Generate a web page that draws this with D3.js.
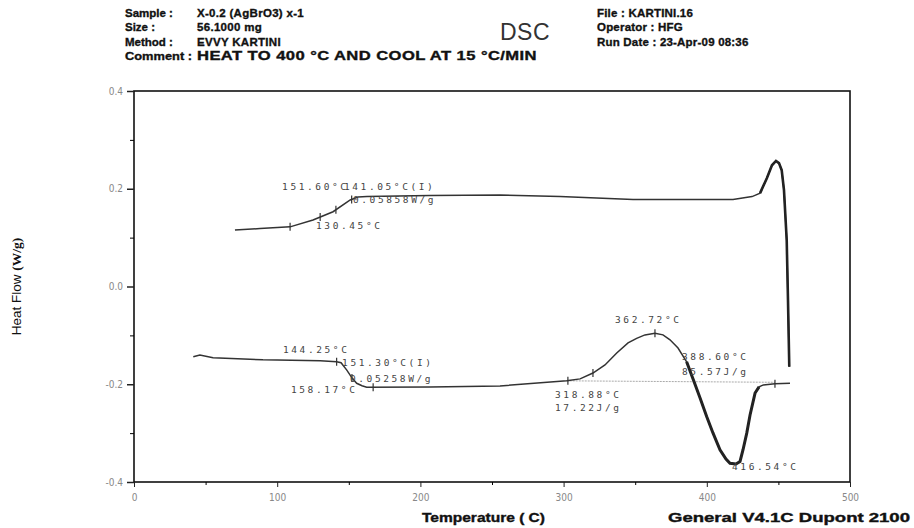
<!DOCTYPE html>
<html>
<head>
<meta charset="utf-8">
<script src="https://cdn.jsdelivr.net/npm/d3@7"></script>
<style>
  body { margin: 0; background: #fff; }
  svg { display: block; }
  .hdr { font-family: "Liberation Sans", Arial, sans-serif; font-weight: bold; font-size: 11.5px; fill: #111; stroke: #111; stroke-width: 0.35px; }
  .tick-lbl { font-family: "Liberation Sans Narrow", "DejaVu Sans Condensed", sans-serif; font-size: 10px; fill: #888; }
  .note { font-family: "DejaVu Sans Mono", monospace; font-size: 9.5px; fill: #444; letter-spacing: 2.6px; }
</style>
</head>
<body>
<svg id="chart"></svg>
<script>
// heating trace (top) and cooling trace (bottom)
const upperT  = [70.5, 88, 109, 125, 139, 151, 156.4, 162.7, 206.7, 255.6, 297.5, 348.5, 395.5, 418.3, 431.6, 437.2, 442, 445.5, 448.3, 450.4, 452.3, 453.9, 455.8, 456.7, 457.6];
const upperHF = [0.1155, 0.1186, 0.122, 0.136, 0.153, 0.177, 0.183, 0.184, 0.186, 0.187, 0.184, 0.178, 0.178, 0.178, 0.184, 0.191, 0.222, 0.248, 0.257, 0.2525, 0.238, 0.197, 0.095, -0.028, -0.164];

const lowerT  = [41.4, 46, 55.2, 90, 130, 141.5, 144.6, 148.6, 152.2, 155.5, 159.2, 162.5, 206.7, 255.6, 302.2, 311.5, 320.5, 328.9, 337.1, 345, 351, 356.8, 363.8, 369.4, 374.3, 379.9, 385.9, 390.6, 395.3, 399.9, 404.3, 409.2, 413.4, 416.2, 420.4, 423.2, 425.3, 427.9, 430.2, 433.7, 436.5, 439.5, 447.6, 458.1];
const lowerHF = [-0.1436, -0.140, -0.146, -0.150, -0.152, -0.154, -0.156, -0.171, -0.187, -0.198, -0.203, -0.206, -0.2055, -0.2035, -0.193, -0.189, -0.177, -0.1605, -0.136, -0.1155, -0.106, -0.099, -0.0957, -0.099, -0.109, -0.126, -0.154, -0.191, -0.228, -0.266, -0.2996, -0.334, -0.353, -0.3616, -0.363, -0.358, -0.334, -0.300, -0.263, -0.218, -0.2055, -0.2014, -0.199, -0.198];

const upperMarks = [109, 130, 141, 152];
const lowerMarks = [141.5, 152.2, 167, 303, 320.5, 363.8, 447.6];

const xTicks = [0, 100, 200, 300, 400, 500];
const yTicks = [0.4, 0.2, 0.0, -0.2, -0.4];
const yTickLabels = ["0.4", "0.2", "0.0", "-0.2", "-0.4"];

const noteText = ["151.60°C", "141.05°C(I)", "0.05858W/g", "130.45°C", "144.25°C", "151.30°C(I)", "0.05258W/g", "158.17°C", "362.72°C", "318.88°C", "17.22J/g", "388.60°C", "85.57J/g", "416.54°C"];
const noteT  = [103.4, 146.6, 152.9, 127.1, 104, 145.3, 150.8, 109.6, 335.9, 294, 294, 382.7, 382.7, 417.6];
const noteHF = [0.197, 0.197, 0.171, 0.1176, -0.136, -0.1626, -0.1953, -0.2178, -0.0746, -0.228, -0.2546, -0.1514, -0.181, -0.3753];

const hdrLeftKeys = ["Sample :", "Size :", "Method :", "Comment :"];
const hdrLeftVals = ["X-0.2 (AgBrO3) x-1", "56.1000 mg", "EVVY KARTINI", "HEAT TO 400 °C AND COOL AT 15 °C/MIN"];
const hdrRight = ["File : KARTINI.16", "Operator : HFG", "Run Date : 23-Apr-09 08:36"];

const W = 914, H = 528;
const svg = d3.select('svg#chart').attr('width', W).attr('height', H);

const x = d3.scaleLinear().domain([0, 500]).range([134, 850]);
const y = d3.scaleLinear().domain([-0.4, 0.4]).range([482, 91]);

// header block
const hdr = svg.append('g').attr('class', 'hdr');
hdrLeftKeys.forEach((k, i) => {
    const key = hdr.append('text').attr('x', 125).attr('y', 17 + i * 14.3).text(k);
    const v = hdr.append('text').attr('x', 197).attr('y', 17 + i * 14.3)
        .attr('letter-spacing', 0.3)
        .text(hdrLeftVals[i]);
    if (i === 3) {
        key.attr('textLength', 67).attr('lengthAdjust', 'spacingAndGlyphs');
        v.style('font-size', '12px').attr('textLength', 340).attr('lengthAdjust', 'spacingAndGlyphs');
    }
});
hdrRight.forEach((t, i) => {
    hdr.append('text').attr('x', 597).attr('y', 17 + i * 14.3).attr('letter-spacing', 0.2).text(t);
});
svg.append('text')
    .attr('x', 500).attr('y', 40)
    .style('font-family', '"Liberation Sans", Arial, sans-serif')
    .style('font-size', '23px').style('fill', '#333')
    .attr('letter-spacing', 0.5)
    .text('DSC');

// frame
svg.append('rect')
    .attr('x', x(0)).attr('y', y(0.4))
    .attr('width', x(500) - x(0)).attr('height', y(-0.4) - y(0.4))
    .attr('fill', 'none').attr('stroke', '#111').attr('stroke-width', 1.6);

// axes
const xAxis = d3.axisBottom(x).tickValues(xTicks).tickSize(5).tickFormat(d3.format('d'));
const gx = svg.append('g').attr('transform', `translate(0,${y(-0.4)})`).call(xAxis);
gx.select('.domain').remove();
gx.selectAll('.tick line').attr('stroke', '#222');
gx.selectAll('.tick text').attr('class', 'tick-lbl').attr('dy', '1.1em');
svg.append('g').attr('transform', `translate(0,${y(-0.4)})`)
    .call(d3.axisBottom(x).tickValues(d3.range(50, 500, 100)).tickSize(3).tickFormat(''))
    .call(g => g.select('.domain').remove());

const yAxis = d3.axisLeft(y).tickValues(yTicks).tickSize(7).tickFormat((d, i) => yTickLabels[i]);
const gy = svg.append('g').attr('transform', `translate(${x(0)},0)`).call(yAxis);
gy.select('.domain').remove();
gy.selectAll('.tick line').attr('stroke', '#222').attr('stroke-width', 1.5);
gy.selectAll('.tick text').attr('class', 'tick-lbl').attr('dx', '-0.1em');
svg.append('g').attr('transform', `translate(${x(0)},0)`)
    .call(d3.axisLeft(y).tickValues([0.3, 0.1, -0.1, -0.3]).tickSize(4).tickFormat(''))
    .call(g => g.select('.domain').remove());

// axis titles
const yt = svg.append('text')
    .attr('transform', `translate(21,${(y(0.4) + y(-0.4)) / 2}) rotate(-90)`)
    .attr('text-anchor', 'middle')
    .style('font-size', '13.5px').style('fill', '#111');
yt.append('tspan').style('font-family', '"Liberation Sans", sans-serif').text('Heat Flow ');
yt.append('tspan').style('font-family', '"Liberation Serif", serif').style('font-weight', 'bold').text(' (W/g)');

svg.append('text').attr('class', 'hdr')
    .attr('x', 422).attr('y', 522)
    .style('font-size', '12px')
    .attr('textLength', 123).attr('lengthAdjust', 'spacingAndGlyphs')
    .text('Temperature  ( C)');
svg.append('text').attr('class', 'hdr')
    .attr('x', 668).attr('y', 522)
    .style('font-size', '12px')
    .attr('textLength', 242).attr('lengthAdjust', 'spacingAndGlyphs')
    .text('General V4.1C Dupont 2100');

// traces
const line = d3.line().x(d => x(d[0])).y(d => y(d[1]));
const upper = d3.zip(upperT, upperHF);
const lower = d3.zip(lowerT, lowerHF);

// integration baseline under the exotherm / endotherm
svg.append('path')
    .datum([[302.2, -0.193], [447.6, -0.196]])
    .attr('d', line)
    .attr('fill', 'none').attr('stroke', '#aaa').attr('stroke-width', 1)
    .attr('stroke-dasharray', '2,1');

svg.append('path').datum(upper).attr('d', line)
    .attr('fill', 'none').attr('stroke', '#333').attr('stroke-width', 1.5);
svg.append('path').datum(lower).attr('d', line)
    .attr('fill', 'none').attr('stroke', '#333').attr('stroke-width', 1.5);

// heavier pen where the trace moves fast
svg.append('path').datum(upper.filter(d => d[0] >= 437)).attr('d', line)
    .attr('fill', 'none').attr('stroke', '#222').attr('stroke-width', 2.6);
svg.append('path').datum(lower.filter(d => d[0] >= 385 && d[0] <= 437)).attr('d', line)
    .attr('fill', 'none').attr('stroke', '#222').attr('stroke-width', 3);

// small markers on the traces
const interpU = d3.scaleLinear().domain(upperT.slice(0, 16)).range(upperHF.slice(0, 16));
const interpL = d3.scaleLinear().domain(lowerT).range(lowerHF);
const marks = upperMarks.map(t => [t, interpU(t)]).concat(lowerMarks.map(t => [t, interpL(t)]));
svg.append('g').selectAll('line').data(marks).join('line')
    .attr('x1', d => x(d[0])).attr('x2', d => x(d[0]))
    .attr('y1', d => y(d[1]) - 4).attr('y2', d => y(d[1]) + 4)
    .attr('stroke', '#333').attr('stroke-width', 1.2);

// annotations
svg.append('g').selectAll('text').data(noteText).join('text')
    .attr('class', 'note')
    .attr('x', (d, i) => x(noteT[i]))
    .attr('y', (d, i) => y(noteHF[i]))
    .text(d => d);
</script>
</body>
</html>
